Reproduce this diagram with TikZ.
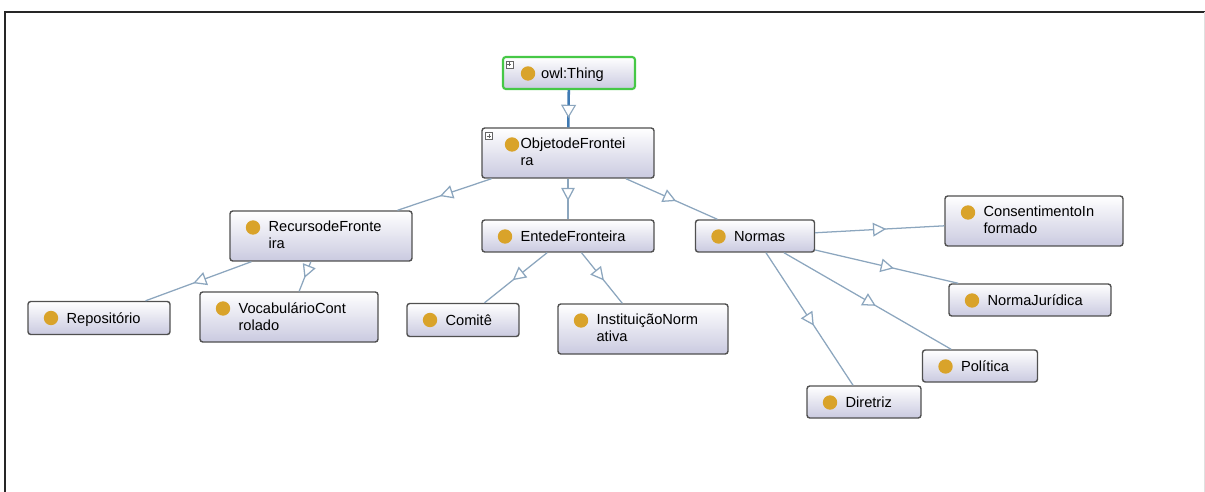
\documentclass[tikz,border=0pt]{standalone}
\usepackage{fontspec}
\setmainfont{Liberation Sans}
\usetikzlibrary{arrows.meta,decorations.markings}

\definecolor{boxline}{HTML}{505050}
\definecolor{boxfill}{HTML}{CACAE0}
\definecolor{dotfill}{HTML}{D9A32A}
\definecolor{isaline}{HTML}{8CA6BE}
\definecolor{rootline}{HTML}{3F7AB3}
\definecolor{thingline}{HTML}{46C846}

\begin{document}
\begin{tikzpicture}[
x=0.025cm, y=-0.025cm,
cls/.style 2 args={draw=boxline, line width=1pt, rounded corners=2pt,
  top color=white, bottom color=boxfill,
  minimum width=#1*0.025cm, minimum height=#2*0.025cm, inner sep=0pt},
dot/.style={path picture={\fill[dotfill] ([shift={(#1,16.5)}]path picture bounding box.north west) circle (0.18cm);}},
dot/.default=23,
lbl/.style={anchor=north west, inner sep=0pt, align=left, xshift=0.975cm, yshift=-0.27cm,
  font=\fontsize{10.4}{12.1}\selectfont, execute at begin node={\rule{0pt}{8pt}}},
txt/.style={label={[lbl]north west:{#1}}},
isa/.style={draw=isaline, line width=0.9pt, postaction={decorate},
  decoration={markings, mark=at position 0.55 with {\arrow{Triangle[fill=white, length=0.33cm, width=0.34cm]}}}},
rootisa/.style={draw=rootline, line width=1.8pt, postaction={decorate},
  decoration={markings, mark=at position 0.75 with {\arrow{Triangle[color=isaline, fill=white, line width=0.8pt, length=0.33cm, width=0.375cm]}}}},
plusbox/.style={draw=gray!80!black, fill=white, line width=0.4pt}
]
\useasboundingbox (0,0) rectangle (1205,492);

% frame
\draw[line width=2pt, black!85] (5,492) -- (5,12) -- (1205,12);
\draw[black!12] (1204,12) -- (1204,492);

% classes
\node[cls={132}{32}, draw=thingline, line width=1.5pt, dot=25, txt={owl:Thing}] (thing) at (569,73) {};
\node[cls={172}{50}, dot=30, txt={ObjetodeFrontei\\ra}] (objeto) at (568,153) {};

\node[cls={182}{50}, dot, txt={RecursodeFronte\\ira}] (recurso) at (321,236) {};
\node[cls={172}{32}, dot, txt={EntedeFronteira}] (entede) at (568,236) {};
\node[cls={119}{32}, dot, txt={Normas}] (normas) at (755,236) {};

\node[cls={142}{33}, dot, txt={Repositório}] (repos) at (99,318) {};
\node[cls={178}{50}, dot, txt={VocabulárioCont\\rolado}] (vocab) at (289,317) {};
\node[cls={112}{33}, dot, txt={Comitê}] (comite) at (463,320) {};
\node[cls={170}{50}, dot, txt={InstituiçãoNorm\\ativa}] (instit) at (643,329) {};

\node[cls={178}{50}, dot, txt={ConsentimentoIn\\formado}] (consent) at (1034,221) {};
\node[cls={162}{32}, dot, txt={NormaJurídica}] (normajur) at (1030,300) {};
\node[cls={115}{32}, dot, txt={Política}] (politica) at (980,366) {};
\node[cls={114}{32}, dot, txt={Diretriz}] (diretriz) at (864,402) {};

% expand icons
\foreach \n in {thing,objeto}{
  \draw[plusbox] ([shift={(4,5)}]\n.north west) rectangle +(7,7);
  \draw[plusbox] ([shift={(7.5,6.5)}]\n.north west) -- +(0,4) ([shift={(5.5,8.5)}]\n.north west) -- +(4,0);
}

% subclass links
\draw[rootisa] (thing) -- (objeto);
\draw[isa] (objeto) -- (recurso);
\draw[isa] (objeto) -- (entede);
\draw[isa] (objeto) -- (normas);
\draw[isa] (recurso) -- (repos);
\draw[isa] (recurso) -- (vocab);
\draw[isa] (entede) -- (comite);
\draw[isa] (entede) -- (instit);
\draw[isa] (normas) -- (consent);
\draw[isa] (normas) -- (normajur);
\draw[isa] (normas) -- (politica);
\draw[isa] (normas) -- (diretriz);

\end{tikzpicture}
\end{document}
